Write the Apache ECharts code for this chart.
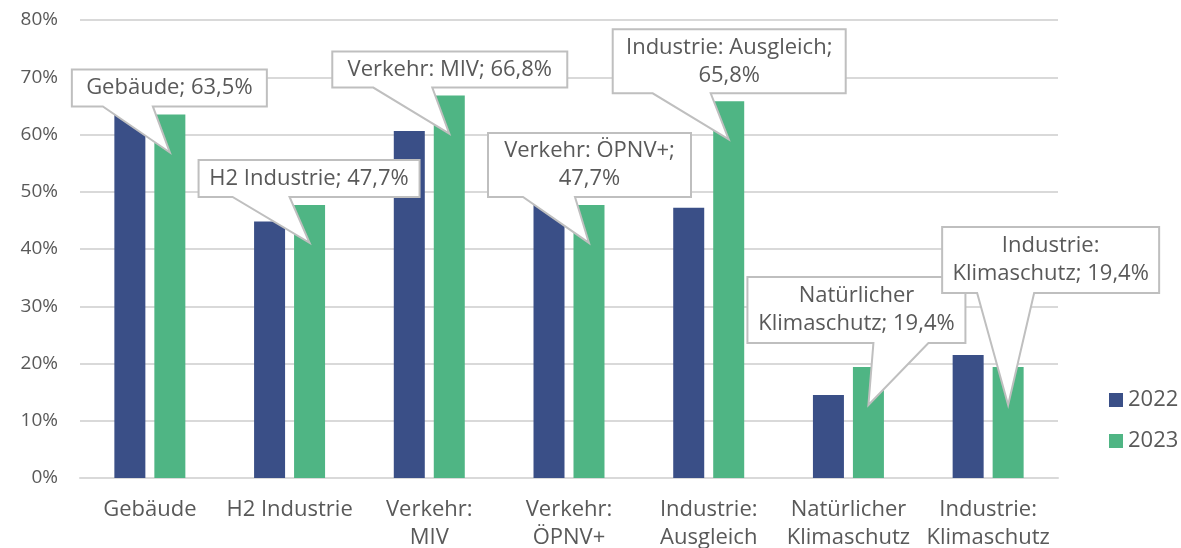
<!DOCTYPE html>
<html>
<head>
<meta charset="utf-8">
<script src="https://cdn.jsdelivr.net/npm/echarts@6/dist/echarts.min.js"></script>
<style>
  html, body { margin: 0; padding: 0; background: #fff; }
  #chart { width: 1181px; height: 548px; }
</style>
</head>
<body>
<div id="chart"></div>
<script>
// Data
const categories = ['Gebäude', 'H2 Industrie', 'Verkehr:\nMIV', 'Verkehr:\nÖPNV+', 'Industrie:\nAusgleich', 'Natürlicher\nKlimaschutz', 'Industrie:\nKlimaschutz']
const values2022 = [64.5, 44.8, 60.6, 49.0, 47.2, 14.5, 21.5]
const values2023 = [63.5, 47.7, 66.8, 47.7, 65.8, 19.4, 19.4]
const calloutNames = ['Gebäude; ', 'H2 Industrie; ', 'Verkehr: MIV; ', 'Verkehr: ÖPNV+;\n', 'Industrie: Ausgleich;\n', 'Natürlicher\nKlimaschutz; ', 'Industrie:\nKlimaschutz; ']
const yTicks = [0, 10, 20, 30, 40, 50, 60, 70, 80]

// callout box placement relative to the bar top: [left, top, width, height, pointer base left, pointer base right]
const calloutBoxes = [
  [-98, -45, 195, 37, -67, -17],
  [-111, -45, 221, 37, -77, -20],
  [-117, -44, 235, 36, -76, -17],
  [-101, -72, 203, 64, -66, -14],
  [-116, -72, 233, 64, -76, -18],
  [-121, -90, 218, 66, 5, 60],
  [-66, -140, 217, 66, -31, 26]
]
const TIP_DROP = 38

const BLUE = '#3a4f87'
const GREEN = '#4fb584'
const TEXT = '#595959'
const GRID_LINE = '#d9d9d9'
const FONT = '"Open Sans", Lato, sans-serif'

const chart = echarts.init(document.getElementById('chart'))
chart.setOption({
  animation: false,
  textStyle: { fontFamily: FONT, color: TEXT },
  grid: { left: 80, right: 123, top: 20, bottom: 70, outerBoundsMode: 'none' },
  legend: {
    orient: 'vertical',
    left: 1104,
    top: 384,
    itemWidth: 14,
    itemHeight: 14,
    itemGap: 19,
    icon: 'rect',
    textStyle: { color: TEXT, fontSize: 22, fontFamily: FONT },
    data: ['2022', '2023']
  },
  xAxis: {
    type: 'category',
    data: categories,
    axisLine: { lineStyle: { color: GRID_LINE, width: 2 } },
    axisTick: { show: false },
    axisLabel: { color: TEXT, fontSize: 22, lineHeight: 28, margin: 18, interval: 0 }
  },
  yAxis: {
    type: 'value',
    min: yTicks[0],
    max: yTicks[yTicks.length - 1],
    interval: 10,
    axisLine: { show: false },
    axisTick: { show: false },
    splitLine: { lineStyle: { color: GRID_LINE, width: 2 } },
    axisLabel: { color: TEXT, fontSize: 19, margin: 22, formatter: '{value}%' }
  },
  series: [
    { name: '2022', type: 'bar', data: values2022, barWidth: 31, barGap: '29%', itemStyle: { color: BLUE } },
    { name: '2023', type: 'bar', data: values2023, barWidth: 31, itemStyle: { color: GREEN } }
  ]
})

// data callouts for the 2023 series, anchored on the laid-out bars
function fmt(v) { return v.toFixed(1).replace('.', ',') + '%' }

const layoutData = chart.getModel().getSeriesByIndex(1).getData()
const elements = []
values2023.forEach((v, i) => {
  const lay = layoutData.getItemLayout(i)
  const cx = lay.x + lay.width / 2
  const top = Math.min(lay.y, lay.y + lay.height)
  const [l, t, w, h, bl, br] = calloutBoxes[i]
  const L = cx + l, T = top + t, R = L + w, B = T + h
  elements.push({
    type: 'polygon',
    z: 100,
    shape: { points: [[L, T], [R, T], [R, B], [cx + br, B], [cx, top + TIP_DROP], [cx + bl, B], [L, B]] },
    style: { fill: '#fff', stroke: '#bfbfbf', lineWidth: 2 }
  })
  elements.push({
    type: 'text',
    z: 101,
    x: L + w / 2,
    y: T + h / 2,
    style: {
      text: calloutNames[i] + fmt(v),
      fill: TEXT,
      font: '22px ' + FONT,
      align: 'center',
      verticalAlign: 'middle',
      lineHeight: 28
    }
  })
})
chart.setOption({ graphic: { elements } })
</script>
</body>
</html>
